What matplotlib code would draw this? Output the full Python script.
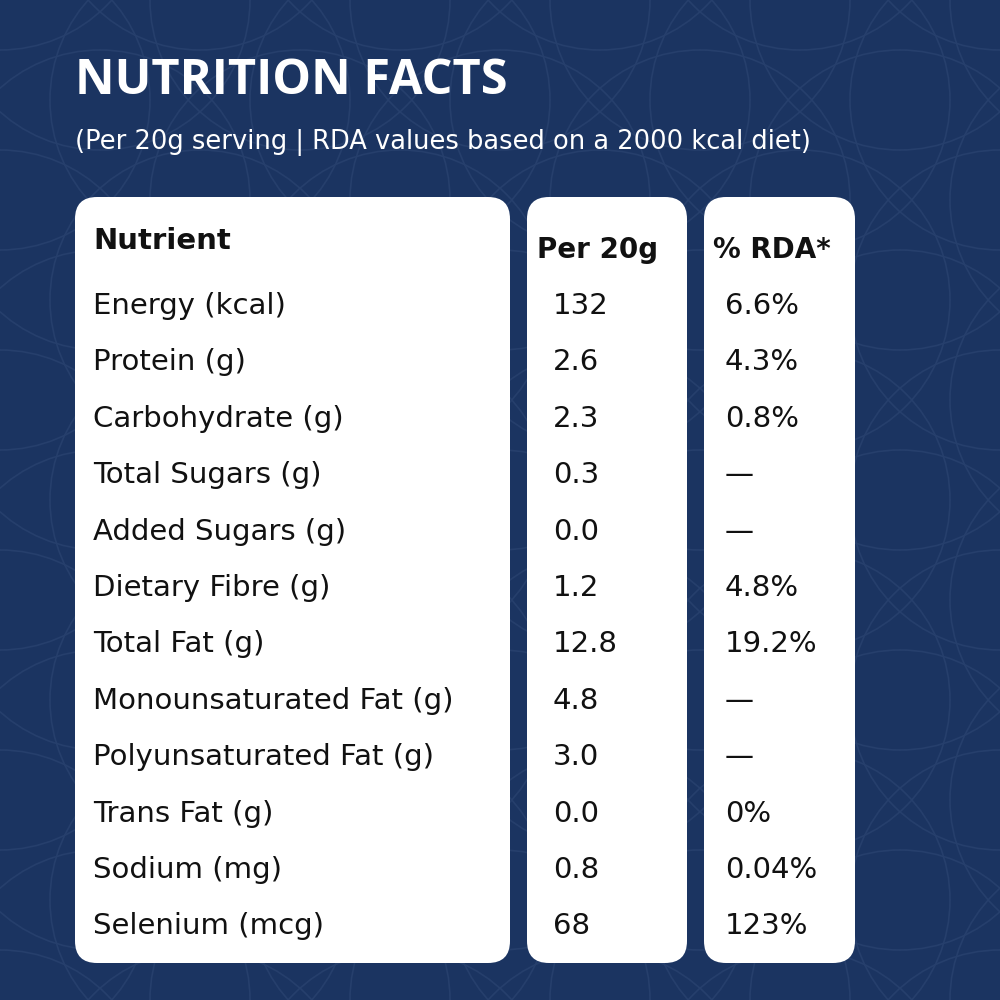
import matplotlib.pyplot as plt
from matplotlib.patches import FancyBboxPatch, Circle

nutrients = ['Energy (kcal)', 'Protein (g)', 'Carbohydrate (g)', 'Total Sugars (g)',
             'Added Sugars (g)', 'Dietary Fibre (g)', 'Total Fat (g)',
             'Monounsaturated Fat (g)', 'Polyunsaturated Fat (g)', 'Trans Fat (g)',
             'Sodium (mg)', 'Selenium (mcg)']
per_20g = ['132', '2.6', '2.3', '0.3', '0.0', '1.2', '12.8', '4.8', '3.0', '0.0', '0.8', '68']
rda = ['6.6%', '4.3%', '0.8%', '—', '—', '4.8%', '19.2%', '—', '—', '0%', '0.04%', '123%']

bg = '#1b3461'
font = 'DejaVu Sans'

fig = plt.figure(figsize=(10, 10), dpi=100)
fig.patch.set_facecolor(bg)
ax = fig.add_axes([0, 0, 1, 1])
ax.set_xlim(0, 1000)
ax.set_ylim(1000, 0)
ax.axis('off')
ax.set_facecolor(bg)

# faint arc pattern
for cx in range(0, 1101, 200):
    for cy in range(-100, 1101, 200):
        ax.add_patch(Circle((cx, cy), 150, fill=False, ec='#263f6c', lw=1.2, zorder=0))
        ax.add_patch(Circle((cx + 100, cy + 100), 150, fill=False, ec='#263f6c', lw=1.2, zorder=0))

ax.text(75, 82, 'NUTRITION FACTS', color='white', fontsize=35, fontweight='bold',
        family='Open Sans', va='center', ha='left')
ax.text(75, 143, '(Per 20g serving | RDA values based on a 2000 kcal diet)', color='white',
        fontsize=18.5, family=font, va='center', ha='left')

for x0, x1 in [(75, 510), (527, 687), (704, 855)]:
    ax.add_patch(FancyBboxPatch((x0, 197), x1 - x0, 766,
                                boxstyle='round,pad=0,rounding_size=22',
                                fc='white', ec='none', zorder=2))

ax.text(93, 241, 'Nutrient', fontsize=21, fontweight='bold', family=font,
        va='center', color='#111111', zorder=3)
ax.text(537, 250, 'Per 20g', fontsize=20, fontweight='bold', family=font,
        va='center', color='#111111', zorder=3)
ax.text(713, 250, '% RDA*', fontsize=20, fontweight='bold', family=font,
        va='center', color='#111111', zorder=3)

y0, dy = 306, 56.4
for i, (n, p, r) in enumerate(zip(nutrients, per_20g, rda)):
    y = y0 + i * dy
    ax.text(93, y, n, fontsize=21, family=font, va='center', color='#111111', zorder=3)
    ax.text(553, y, p, fontsize=21, family=font, va='center', color='#111111', zorder=3)
    ax.text(725, y, r, fontsize=21, family=font, va='center', color='#111111', zorder=3)

fig.savefig('out.png', dpi=100, facecolor=bg)
